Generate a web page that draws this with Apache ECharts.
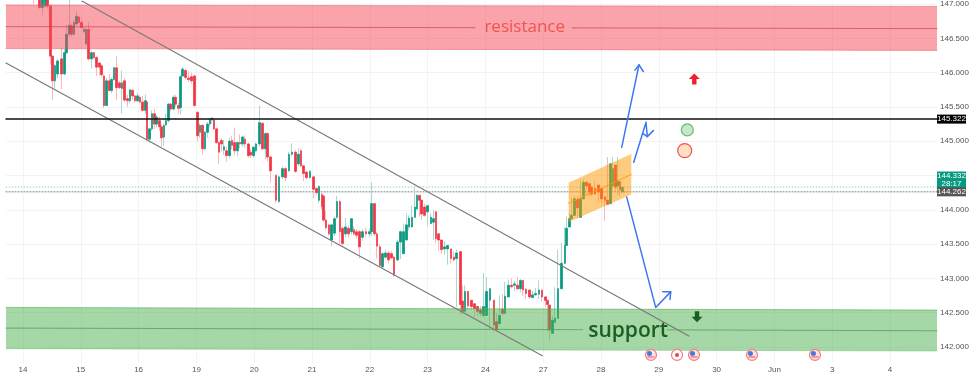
<!DOCTYPE html>
<html><head><meta charset="utf-8">
<style>html,body{margin:0;padding:0;background:#fff}#c{width:974px;height:377px}</style>
<script src="https://cdn.jsdelivr.net/npm/echarts@6/dist/echarts.min.js"></script>
</head><body><div id="c"></div>
<script>
// ---- axis ticks
const dayTicks = [0,1,2,3,4,5,6,7,8,9,10,11,12,13,14,15];
const dayLabels = ['14','15','16','19','20','21','22','23','24','27','28','29','30','Jun','3','4'];
const priceTicks = [142,142.5,143,143.5,144,144.5,145,145.5,146,146.5,147];
const priceLabels = [142,142.5,143,143.5,144,145,145.5,146,146.5,147];
const xMin = -0.294, xMax = 15.813, yMin = 141.767, yMax = 147.044;
// ---- candles
const candleDays = [0.179,0.231,0.283,0.334,0.386,0.427,0.479,0.507,0.554,0.594,0.669,0.715,0.755,0.802,0.842,0.882,0.928,0.969,1.015,1.055,1.09,1.136,1.182,1.228,1.274,1.321,1.361,1.401,1.447,1.494,1.534,1.574,1.62,1.667,1.713,1.759,1.805,1.851,1.897,1.938,1.978,2.024,2.07,2.116,2.145,2.186,2.232,2.272,2.312,2.359,2.399,2.439,2.474,2.514,2.555,2.601,2.641,2.687,2.722,2.762,2.808,2.86,2.918,2.97,3.016,3.062,3.108,3.149,3.189,3.235,3.27,3.304,3.35,3.391,3.437,3.477,3.524,3.57,3.616,3.662,3.708,3.754,3.8,3.841,3.898,3.939,3.985,4.031,4.089,4.141,4.198,4.233,4.285,4.377,4.429,4.492,4.544,4.602,4.654,4.711,4.763,4.809,4.855,4.907,4.965,5.023,5.075,5.121,5.173,5.196,5.242,5.294,5.34,5.392,5.432,5.484,5.53,5.576,5.634,5.686,5.726,5.772,5.819,5.876,5.934,5.992,6.032,6.078,6.124,6.176,6.222,6.274,6.326,6.378,6.418,6.476,6.528,6.58,6.637,6.678,6.73,6.782,6.816,6.862,6.897,6.943,6.995,7.059,7.099,7.145,7.185,7.243,7.295,7.347,7.405,7.456,7.503,7.572,7.606,7.647,7.699,7.762,7.808,7.86,7.918,7.964,8.022,8.079,8.149,8.195,8.241,8.293,8.339,8.402,8.448,8.5,8.558,8.61,8.65,8.702,8.76,8.812,8.869,8.927,8.979,9.037,9.071,9.106,9.158,9.204,9.256,9.319,9.377,9.406,9.452,9.493,9.539,9.591,9.649,9.695,9.752,9.799,9.839,9.897,9.954,10.012,10.07,10.116,10.162,10.208,10.248,10.289,10.329,10.369];
const opens = [147.15,147.12,147.1,146.95,146.97,147.1,146.97,146.24,145.88,145.98,146.2,145.98,146.29,146.56,146.68,146.56,146.71,146.81,146.73,146.6,146.42,146.63,146.2,146.29,146.22,146.14,146.1,145.95,145.52,145.88,145.74,145.9,146.07,145.85,145.77,145.88,145.62,145.59,145.74,145.66,145.59,145.64,145.57,145.45,145.57,145.03,145.18,145.4,145.25,145.3,145.21,145.06,145.24,145.3,145.54,145.47,145.64,145.52,145.49,145.95,146.03,145.92,145.94,145.95,145.42,145.13,145.23,144.89,145.13,145.25,145.31,145.31,145.18,144.98,145.01,144.87,144.86,144.79,145.01,144.98,144.86,144.98,144.96,145.03,144.96,144.84,144.79,144.86,144.96,145.26,144.89,145.11,144.77,144.5,144.12,144.48,144.6,144.57,144.81,144.84,144.67,144.86,144.64,144.55,144.47,144.48,144.31,144.14,144.22,144.2,143.85,143.78,143.56,143.66,143.89,144.12,143.73,143.65,143.73,143.68,143.71,143.68,143.68,143.6,143.68,143.65,143.68,144.09,143.65,143.46,143.17,143.31,143.37,143.36,143.31,143.27,143.53,143.36,143.56,143.75,143.75,143.89,144.01,144.21,144.14,144.04,143.97,143.8,143.82,143.97,143.65,143.56,143.43,143.43,143.43,143.31,143.29,143.39,142.67,142.52,142.81,142.68,142.63,142.59,142.54,142.46,142.46,142.68,142.68,142.37,142.34,142.55,142.49,142.73,142.9,142.9,142.9,142.85,142.97,142.84,142.83,142.72,142.76,142.77,142.83,142.73,142.68,142.61,142.2,142.36,142.42,142.85,143.22,143.48,143.75,143.87,143.92,144.15,143.89,144.16,144.4,144.38,144.33,144.31,144.36,144.31,144.19,144.14,144.09,144.35,144.65,144.35,144.41,144.26];
const closes = [147.08,147.2,146.95,147.1,147.1,146.97,146.24,145.88,146.1,146.17,145.98,146.29,146.56,146.69,146.56,146.73,146.82,146.73,146.66,146.63,146.63,146.2,146.29,146.22,146.08,146.08,145.97,145.52,145.88,145.74,145.9,146.07,145.78,145.78,145.85,145.6,145.59,145.75,145.66,145.59,145.66,145.57,145.45,145.59,145.03,145.18,145.4,145.25,145.35,145.21,145.05,145.23,145.3,145.54,145.47,145.64,145.54,145.48,145.94,146.05,145.93,145.9,145.88,145.52,145.08,145.23,144.89,145.13,145.25,145.32,145.34,145.18,144.98,144.84,144.96,144.92,144.79,145.0,144.94,144.86,144.98,144.96,145.06,144.96,144.79,144.8,144.91,144.96,145.27,144.89,145.11,144.77,144.57,144.14,144.48,144.6,144.47,144.81,144.84,144.56,144.81,144.64,144.53,144.47,144.56,144.3,144.25,144.34,144.05,143.85,143.74,143.65,143.78,143.87,144.12,143.68,143.51,143.75,143.65,143.87,143.65,143.63,143.46,143.68,143.65,143.68,144.09,143.65,143.47,143.19,143.36,143.37,143.27,143.3,143.05,143.53,143.68,143.68,143.78,143.88,143.89,144.04,144.21,144.14,143.94,143.92,144.06,143.89,143.87,143.58,143.56,143.42,143.46,143.48,143.29,143.27,143.37,142.62,142.52,142.81,142.6,142.59,142.56,142.52,142.49,142.59,142.81,142.85,142.32,142.25,142.46,142.49,142.74,142.9,142.88,142.92,142.85,142.97,142.83,142.78,142.73,142.76,142.78,142.83,142.73,142.68,142.62,142.25,142.39,142.42,142.85,143.22,143.48,143.73,143.87,143.92,144.16,144.03,144.16,144.4,144.35,144.26,144.23,144.23,144.26,144.16,144.14,144.08,144.67,144.6,144.33,144.42,144.29,144.33];
const lows = [147,147.06,146.93,146.84,146.95,146.94,146.12,145.6,145.77,145.92,145.76,145.96,146.27,146.52,146.52,146.54,146.69,146.72,146.64,146.57,146.4,146.18,146.06,146.2,145.95,145.96,145.93,145.48,145.52,145.72,145.7,145.88,145.6,145.76,145.4,145.57,145.5,145.55,145.6,145.56,145.57,145.55,145.43,145.4,145,144.98,145.15,145.18,145.2,145.15,144.92,144.93,145.22,145.27,145.44,145.45,145.5,145.4,145.39,145.94,145.9,145.86,145.84,145.5,145,145.05,144.81,144.87,145.05,145.2,145.26,145.16,144.96,144.67,144.85,144.8,144.7,144.75,144.88,144.8,144.78,144.9,144.92,144.9,144.76,144.76,144.76,144.84,144.92,144.87,144.74,144.7,144.4,144.1,144.1,144.45,144.42,144.55,144.78,144.54,144.64,144.62,144.42,144.44,144.45,144.17,144.22,144.1,144,143.82,143.7,143.62,143.47,143.62,143.87,143.5,143.47,143.6,143.6,143.64,143.62,143.58,143.29,143.55,143.6,143.6,143.62,143.62,143.29,143.17,143.14,143.28,143.22,143.28,143.02,143.25,143.28,143.47,143.72,143.7,143.85,143.99,144.1,143.9,143.85,143.9,143.76,143.8,143.56,143.52,143.4,143.36,143.35,143.2,143.22,143.25,142.58,142.47,142.48,142.55,142.54,142.54,142.43,142.45,142.44,142.43,142.65,142.26,142.22,142.32,142.45,142.46,142.7,142.84,142.85,142.82,142.83,142.8,142.74,142.7,142.7,142.72,142.75,142.7,142.66,142.58,142.23,142.1,142.3,142.4,142.8,143.17,143.45,143.7,143.75,143.87,144,143.87,144.12,144.3,144.22,144.2,144.2,144.22,144.12,144.1,143.84,144.07,144.3,144.3,144.28,144.22,144.2];
const highs = [147.2,147.25,147.2,147.2,147.15,147.15,147,146.24,146.12,146.2,146.36,146.34,146.7,147.1,146.72,146.78,146.9,146.83,146.76,146.67,146.65,146.74,146.31,146.3,146.24,146.15,146.12,145.97,145.92,145.98,145.93,146.08,146.24,145.88,146.03,145.92,145.68,145.76,145.76,145.68,145.7,145.67,145.66,145.68,145.59,145.2,145.45,145.47,145.38,145.36,145.24,145.26,145.4,145.56,145.56,145.67,145.68,145.56,145.96,146.08,146.06,146.02,146,145.97,145.44,145.26,145.25,145.15,145.28,145.34,145.34,145.33,145.2,145,145.04,145.02,144.92,145.05,145.08,145.2,145,145.1,145.08,145.08,144.98,144.88,144.94,144.98,145.52,145.28,145.13,145.13,144.79,144.52,144.5,144.63,144.62,144.84,144.97,144.87,144.9,144.89,144.66,144.57,144.58,144.5,144.33,144.36,144.26,144.22,143.98,143.8,143.8,143.9,144.2,144.14,143.76,143.88,143.78,143.88,143.76,143.72,143.71,143.72,143.74,143.72,144.4,144.1,143.68,143.5,143.38,143.42,143.4,143.4,143.33,143.56,143.7,143.8,143.95,143.92,144.06,144.34,144.23,144.16,144.06,144.09,143.96,143.95,144,143.67,143.6,143.5,143.54,143.46,143.34,143.39,143.42,142.7,142.9,142.9,142.78,142.66,142.61,142.59,142.6,143.08,143.02,142.73,142.4,142.5,142.75,142.77,142.95,142.98,143,142.96,143.02,142.99,142.88,142.86,142.8,142.82,142.86,142.97,142.77,142.7,142.63,142.42,142.45,142.87,143.42,143.52,143.75,143.9,143.95,144.18,144.2,144.2,144.44,144.45,144.42,144.36,144.34,144.42,144.36,144.22,144.16,144.77,144.65,144.77,144.52,144.77,144.38];
// ---- levels
const keyLevel = 145.322, lastPrice = 144.332, prevPrice = 144.262, countdown = '28:17';
// ---- zones, as [day, price]
const redZone = [[-0.294,146.985],[15.813,146.964],[15.813,146.324],[-0.294,146.35]];
const greenZone = [[-0.294,142.577],[15.813,142.538],[15.813,141.942],[-0.294,141.975]];
const redMidA = [[-0.294,146.67],[7.82,146.655]], redMidB = [[9.5,146.652],[15.813,146.641]];
const greenMidA = [[-0.294,142.276],[9.68,142.253]], greenMidB = [[11.14,142.25],[15.813,142.237]];
// ---- drawings
const channelUpper = [[1.02,147.044],[11.52,142.16]];
const channelLower = [[-0.294,146.14],[8.985,141.874]];
const flagBox = [[9.44,144.394],[10.524,144.815],[10.524,144.224],[9.44,143.821]];
const flagMid = [[9.44,144.097],[10.524,144.515]];
const arrowUpLine = [[10.358,144.911],[10.657,146.113]];
const arrowUpHead = [[10.588,146.036],[10.657,146.113],[10.732,146.016]];
const arrowMidLine = [[10.566,144.693],[10.779,145.275],[10.801,145.067]];
const arrowMidHead = [[10.721,145.115],[10.801,145.067],[10.905,145.154]];
const arrowDownLine = [[10.445,144.185],[10.946,142.577],[11.206,142.804]];
const arrowDownHead = [[11.067,142.804],[11.206,142.804],[11.194,142.693]];
const redArrowPoint = [11.614,145.906], greenArrowPoint = [11.661,142.44];
const greenCircle = [11.493,145.164], orangeCircle = [11.448,144.863];
const resistanceText = [8.68,146.665], supportText = [10.47,142.24];
const usEventDays = [10.865,11.609,12.612,13.702], dotEventDay = 11.315, eventPrice = 141.884;

const full = opens.map((o,i)=>[candleDays[i],o,closes[i],lows[i],highs[i]]);
const bodies = opens.map((o,i)=>[candleDays[i],o,closes[i],Math.min(o,closes[i]),Math.max(o,closes[i])]);
const enc = {x:0,y:[1,2,3,4]};
function line(points,color,width,z,type){
  return {type:'line',data:points,symbol:'none',silent:true,z:z||6,animation:false,
    lineStyle:{color:color,width:width,type:type||'solid',cap:'round',join:'round'}};
}
function poly(points,fill,stroke,z){
  return {type:'custom',data:[0],silent:true,z:z||5,animation:false,clip:false,
    renderItem:(p,api)=>({type:'polygon',shape:{points:points.map(q=>api.coord(q))},
      style:{fill:fill,stroke:stroke||null,lineWidth:1}})};
}
function mark(pt,symbol,size,color,border,bw,z,off){
  return {type:'scatter',data:[pt],symbol:symbol,symbolSize:size,symbolOffset:off||[0,0],silent:true,z:z||8,animation:false,clip:false,
    itemStyle:{color:color,borderColor:border||color,borderWidth:bw||0,opacity:1}};
}
function word(pt,text,size,color,weight){
  return {type:'scatter',data:[pt],symbolSize:1,silent:true,z:9,animation:false,itemStyle:{opacity:0},
    label:{show:true,position:'inside',formatter:text,fontSize:size,color:color,fontWeight:weight||'normal',fontFamily:'"Open Sans",sans-serif',opacity:1}};
}
const arrowPath='path://M5 0L10 5L7 5L7 10L3 10L3 5L0 5Z';
const downPath='path://M3 0L7 0L7 5L10 5L5 10L0 5L3 5Z';
const series=[
 {type:'candlestick',data:full,encode:enc,barWidth:2,z:3,animation:false,silent:true,
  itemStyle:{color:'#a8d9d0',color0:'#f9b8bd',borderColor:'#a8d9d0',borderColor0:'#f9b8bd',borderWidth:1}},
 {type:'candlestick',data:bodies,encode:enc,barWidth:2,z:4,animation:false,silent:true,
  itemStyle:{color:'#089981',color0:'#f23645',borderColor:'#089981',borderColor0:'#f23645',borderWidth:0.6}},
 poly(redZone,'rgba(247,72,86,0.5)'),
 poly(greenZone,'rgba(76,175,80,0.5)'),
 line(redMidA,'rgba(200,50,60,0.6)',1), line(redMidB,'rgba(200,50,60,0.6)',1),
 line(greenMidA,'rgba(76,160,80,0.75)',1), line(greenMidB,'rgba(76,160,80,0.75)',1),
 line([[xMin,redZone[0][1]],[xMax,redZone[1][1]]],'rgba(230,90,100,0.5)',1),
 line([[xMin,redZone[3][1]],[xMax,redZone[2][1]]],'rgba(230,90,100,0.5)',1),
 line([[xMin,greenZone[0][1]],[xMax,greenZone[1][1]]],'rgba(76,175,80,0.6)',1),
 line([[xMin,greenZone[3][1]],[xMax,greenZone[2][1]]],'rgba(76,175,80,0.35)',1),
 line(channelUpper,'#7a7a7a',1.2), line(channelLower,'#7a7a7a',1.2),
 line([[xMin,keyLevel],[xMax,keyLevel]],'#111',1.5),
 line([[xMin,prevPrice],[xMax,prevPrice]],'#777',1,2,[1,2]),
 line([[xMin,lastPrice],[xMax,lastPrice]],'#9fd8cd',1,2,[1,2]),
 poly(flagBox,'rgba(255,152,0,0.5)'),
 line(flagMid,'rgba(255,152,0,0.9)',1),
 line(arrowUpLine,'#3f76f2',1.5), line(arrowUpHead,'#3f76f2',1.5),
 line(arrowMidLine,'#3f76f2',1.5), line(arrowMidHead,'#3f76f2',1.5),
 line(arrowDownLine,'#3f76f2',1.5), line(arrowDownHead,'#3f76f2',1.5),
 mark(redArrowPoint,arrowPath,11,'#f0202f'),
 mark(greenArrowPoint,downPath,11,'#1b5e20'),
 mark(greenCircle,'circle',12,'#c8e6c9','#66bb6a',1.2),
 mark(orangeCircle,'circle',14,'#ffe0c2','#ef5350',1.2),
 word(resistanceText,'resistance',17,'#ef5350'),
 word(supportText,'support',21,'#1b5e20','600'),
 ...usEventDays.flatMap(d=>[
   mark([d,eventPrice],'circle',11,'#fde3e4','#f77c80',1.2,8),
   mark([d,eventPrice],'rect',[7,1.5],'#f77c80',null,0,9,[0,2]),
   mark([d,eventPrice],'circle',5,'#4a78d8',null,0,9,[-1.5,-1.5]),
 ]),
 mark([dotEventDay,eventPrice],'circle',11,'#fff','#f77c80',1.2,8),
 mark([dotEventDay,eventPrice],'circle',4,'#f0404c',null,0,9),
 {type:'custom',data:[0],silent:true,z:20,animation:false,clip:false,
  renderItem:(p,api)=>{
    const x=api.coord([xMax,keyLevel])[0];
    const yK=api.coord([xMax,keyLevel])[1], yL=api.coord([xMax,lastPrice])[1], yP=api.coord([xMax,prevPrice])[1];
    const tag=(top,h,fill)=>({type:'rect',shape:{x:x,y:top,width:29,height:h},style:{fill:fill}});
    const txt=(cy,s)=>({type:'text',x:x+14.5,y:cy,style:{text:s,fill:'#fff',fontSize:8,fontFamily:'"Liberation Sans",sans-serif',align:'center',verticalAlign:'middle'}});
    return {type:'group',children:[
      tag(yK-4.5,9,'#000'),txt(yK,keyLevel.toFixed(3)),
      tag(yL-15.5,17,'#089981'),txt(yL-11,lastPrice.toFixed(3)),txt(yL-3,countdown),
      tag(yP-4.5,9,'#555'),txt(yP,prevPrice.toFixed(3))
    ]};
  }}
];
const chart=echarts.init(document.getElementById('c'),null,{renderer:'canvas'});
chart.setOption({animation:false,backgroundColor:'#fff',
 grid:{left:6,right:37,top:0,bottom:14,containLabel:false},
 xAxis:{type:'value',min:xMin,max:xMax,
  axisLine:{show:false},axisTick:{show:false,customValues:dayTicks},
  splitLine:{show:true,lineStyle:{color:'#f2f3f5',width:1}},
  axisLabel:{customValues:dayTicks,fontSize:8,color:'#555',margin:3,fontFamily:'"Liberation Sans",sans-serif',
    formatter:v=>dayLabels[dayTicks.indexOf(v)]}},
 yAxis:{type:'value',position:'right',min:yMin,max:yMax,scale:true,
  axisLine:{show:false},axisTick:{show:false,customValues:priceTicks},
  splitLine:{show:true,lineStyle:{color:'#f2f3f5',width:1}},
  axisLabel:{customValues:priceLabels,fontSize:8,color:'#555',margin:3,fontFamily:'"Liberation Sans",sans-serif',
    formatter:v=>v.toFixed(3)}},
 series:series});
</script></body></html>
